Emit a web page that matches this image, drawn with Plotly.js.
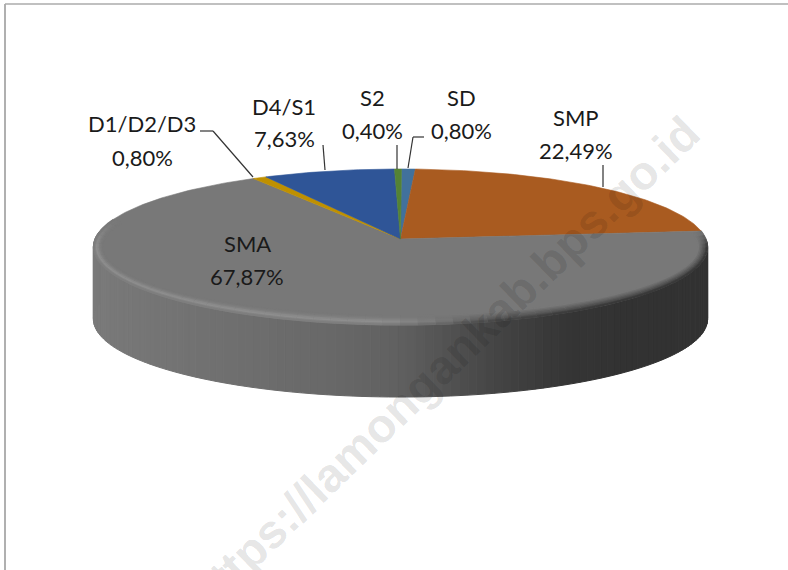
<!DOCTYPE html>
<html>
<head>
<meta charset="utf-8">
<script src="https://cdn.plot.ly/plotly-3.0.1.min.js"></script>
<style>html,body{margin:0;padding:0;background:#fff;overflow:hidden}</style>
</head>
<body>
<div id="chart" style="width:788px;height:570px"></div>
<script>
// ---------- data ----------
const categories = ["SD", "SMP", "SMA", "D1/D2/D3", "D4/S1", "S2"];
const shares = [0.80, 22.49, 67.87, 0.80, 7.63, 0.40];
const shareLabels = ["0,80%", "22,49%", "67,87%", "0,80%", "7,63%", "0,40%"];
const sliceColors = ["#41719C", "#A95B20", "#787878", "#BF9000", "#2F5597", "#548235"];

// ---------- projection of the tilted pie ----------
const apexX = 400.5, apexY = 239, radiusX = 305.5, radiusY = 77.2, persp = 0.1026;
const wallDepth = 72, firstAngle = 0.2;
const rim = (deg, inset = 0) => {
  const t = deg * Math.PI / 180, w = 1 + persp * Math.cos(t);
  const dx = radiusX * Math.sin(t) / w, dy = -radiusY * Math.cos(t) / w;
  const cy = apexY + 8;
  const ey = apexY + dy - cy;
  return [apexX + dx * (1 - inset / 308), cy + ey * (1 - inset / 78)];
};
const total = shares.reduce((a, b) => a + b, 0);
let cum = firstAngle;
const slices = shares.map((v, i) => {
  const a0 = cum, a1 = cum + v / total * 360;
  cum = a1;
  return { i, a0, a1 };
});
const range = (a, b, step) => {
  const out = [];
  for (let d = a; d < b; d += step) out.push(d);
  out.push(b);
  return out;
};
const lerp = (a, b, t) => a + (b - a) * t;
const grey = g => { const v = Math.round(g); return `rgb(${v},${v},${v})`; };
const wallStops = [[90, 122], [200, 113], [330, 104], [400, 96], [467, 76], [520, 63], [567, 53], [620, 50], [720, 50]];
const wallGrey = x => {
  for (let i = 1; i < wallStops.length; i++) {
    if (x <= wallStops[i][0]) {
      const [x0, g0] = wallStops[i - 1], [x1, g1] = wallStops[i];
      return lerp(g0, g1, (x - x0) / (x1 - x0));
    }
  }
  return 50;
};
const clamp = (v) => Math.max(0, Math.min(1, v));

const traces = [];
const base = { hoverinfo: "skip", showlegend: false, type: "scatter" };

// side wall of the largest slice
const sma = slices[2];
const wallAngles = range(Math.max(sma.a0, 92), 276, 1.5);
for (let k = 0; k < wallAngles.length - 1; k++) {
  const p = rim(wallAngles[k]), q = rim(wallAngles[k + 1]);
  const c = grey(wallGrey((p[0] + q[0]) / 2));
  traces.push({ ...base, x: [p[0], q[0], q[0], p[0], p[0]], y: [p[1], q[1], q[1] + wallDepth, p[1] + wallDepth, p[1]],
    mode: "lines", fill: "toself", fillcolor: c, line: { color: c, width: 1 } });
}

// top faces, one per category
slices.forEach(s => {
  const pts = range(s.a0, s.a1, 1).map(d => rim(d));
  traces.push({ ...base, name: categories[s.i],
    x: [apexX, ...pts.map(p => p[0]), apexX], y: [apexY, ...pts.map(p => p[1]), apexY],
    mode: "lines", fill: "toself", fillcolor: sliceColors[s.i], line: { color: sliceColors[s.i], width: 0.6 } });
});

// bevel on the rim of the largest slice
const topGrey = 120;
const insets = [9, 7.5, 6, 4.5, 3, 1.5, 0.5];
const bumps = [0, 0.12, 0.35, 0.75, 1, 0.6, 0.25];
const bevelAngles = range(sma.a0, 285, 3);
insets.forEach((inset, r) => {
  for (let k = 0; k < bevelAngles.length - 1; k++) {
    const a = bevelAngles[k], b = bevelAngles[k + 1], m = (a + b) / 2;
    const p = rim(a, inset), q = rim(b, inset);
    const xm = (p[0] + q[0]) / 2;
    const lit = clamp((490 - xm) / 110);
    const fade = clamp((m - sma.a0) / 12) * clamp((285 - m) / 20);
    const dark = lerp(wallGrey(xm), topGrey, Math.pow(inset / 9, 0.8));
    const light = topGrey + 22 * bumps[r];
    const g = lerp(topGrey, lit * light + (1 - lit) * dark, fade);
    traces.push({ ...base, x: [p[0], q[0]], y: [p[1], q[1]], mode: "lines", line: { color: grey(g), width: 2 } });
  }
});

// ---------- labels ----------
const labelX = [461, 576, 247, 142, 284, 372];
const nameY = [97, 117, 243, 123, 106, 97];
const valueY = [130, 150, 276, 157, 138, 130];
const annotations = [{
  text: "<b>https://lamongankab.bps.go.id</b>", x: 443, y: 364, xref: "x", yref: "y", showarrow: false, textangle: -44,
  font: { family: "Liberation Sans", size: 47.5, color: "rgba(0,0,0,0.115)" }
}];
categories.forEach((c, i) => {
  const font = { family: "Lato", size: 22, color: "#1a1a1a" };
  annotations.push({ text: c, x: labelX[i], y: nameY[i], xref: "x", yref: "y", showarrow: false, font });
  annotations.push({ text: shareLabels[i], x: labelX[i], y: valueY[i], xref: "x", yref: "y", showarrow: false, font });
});

// ---------- leader lines and frame ----------
const leaders = [
  [[200, 131], [213, 131], [253, 177]],
  [[323, 145], [325, 170]],
  [[397, 145], [397, 169]],
  [[424, 137], [413, 137], [408, 168]]
];
const shapes = [
  { type: "line", x0: 5, x1: 5, y0: 4, y1: 570, xref: "x", yref: "y", line: { color: "#969696", width: 1.5 } },
  { type: "line", x0: 5, x1: 788, y0: 4, y1: 4, xref: "x", yref: "y", line: { color: "#ababab", width: 1.5 } },
  { type: "line", x0: 603, x1: 603, y0: 165, y1: 187, xref: "x", yref: "y", line: { color: "#595959", width: 1.5 } }
];
leaders.forEach(l => {
  for (let i = 0; i < l.length - 1; i++) {
    shapes.push({ type: "line", x0: l[i][0], y0: l[i][1], x1: l[i + 1][0], y1: l[i + 1][1], xref: "x", yref: "y",
      line: { color: "#333333", width: 1.2 } });
  }
});

const layout = {
  width: 788, height: 570,
  margin: { l: 0, r: 0, t: 0, b: 0, pad: 0 },
  paper_bgcolor: "#ffffff", plot_bgcolor: "#ffffff",
  xaxis: { range: [0, 788], visible: false, fixedrange: true },
  yaxis: { range: [570, 0], visible: false, fixedrange: true },
  showlegend: false, annotations, shapes
};
Plotly.newPlot("chart", traces, layout, { displayModeBar: false, staticPlot: true });
</script>
</body>
</html>
